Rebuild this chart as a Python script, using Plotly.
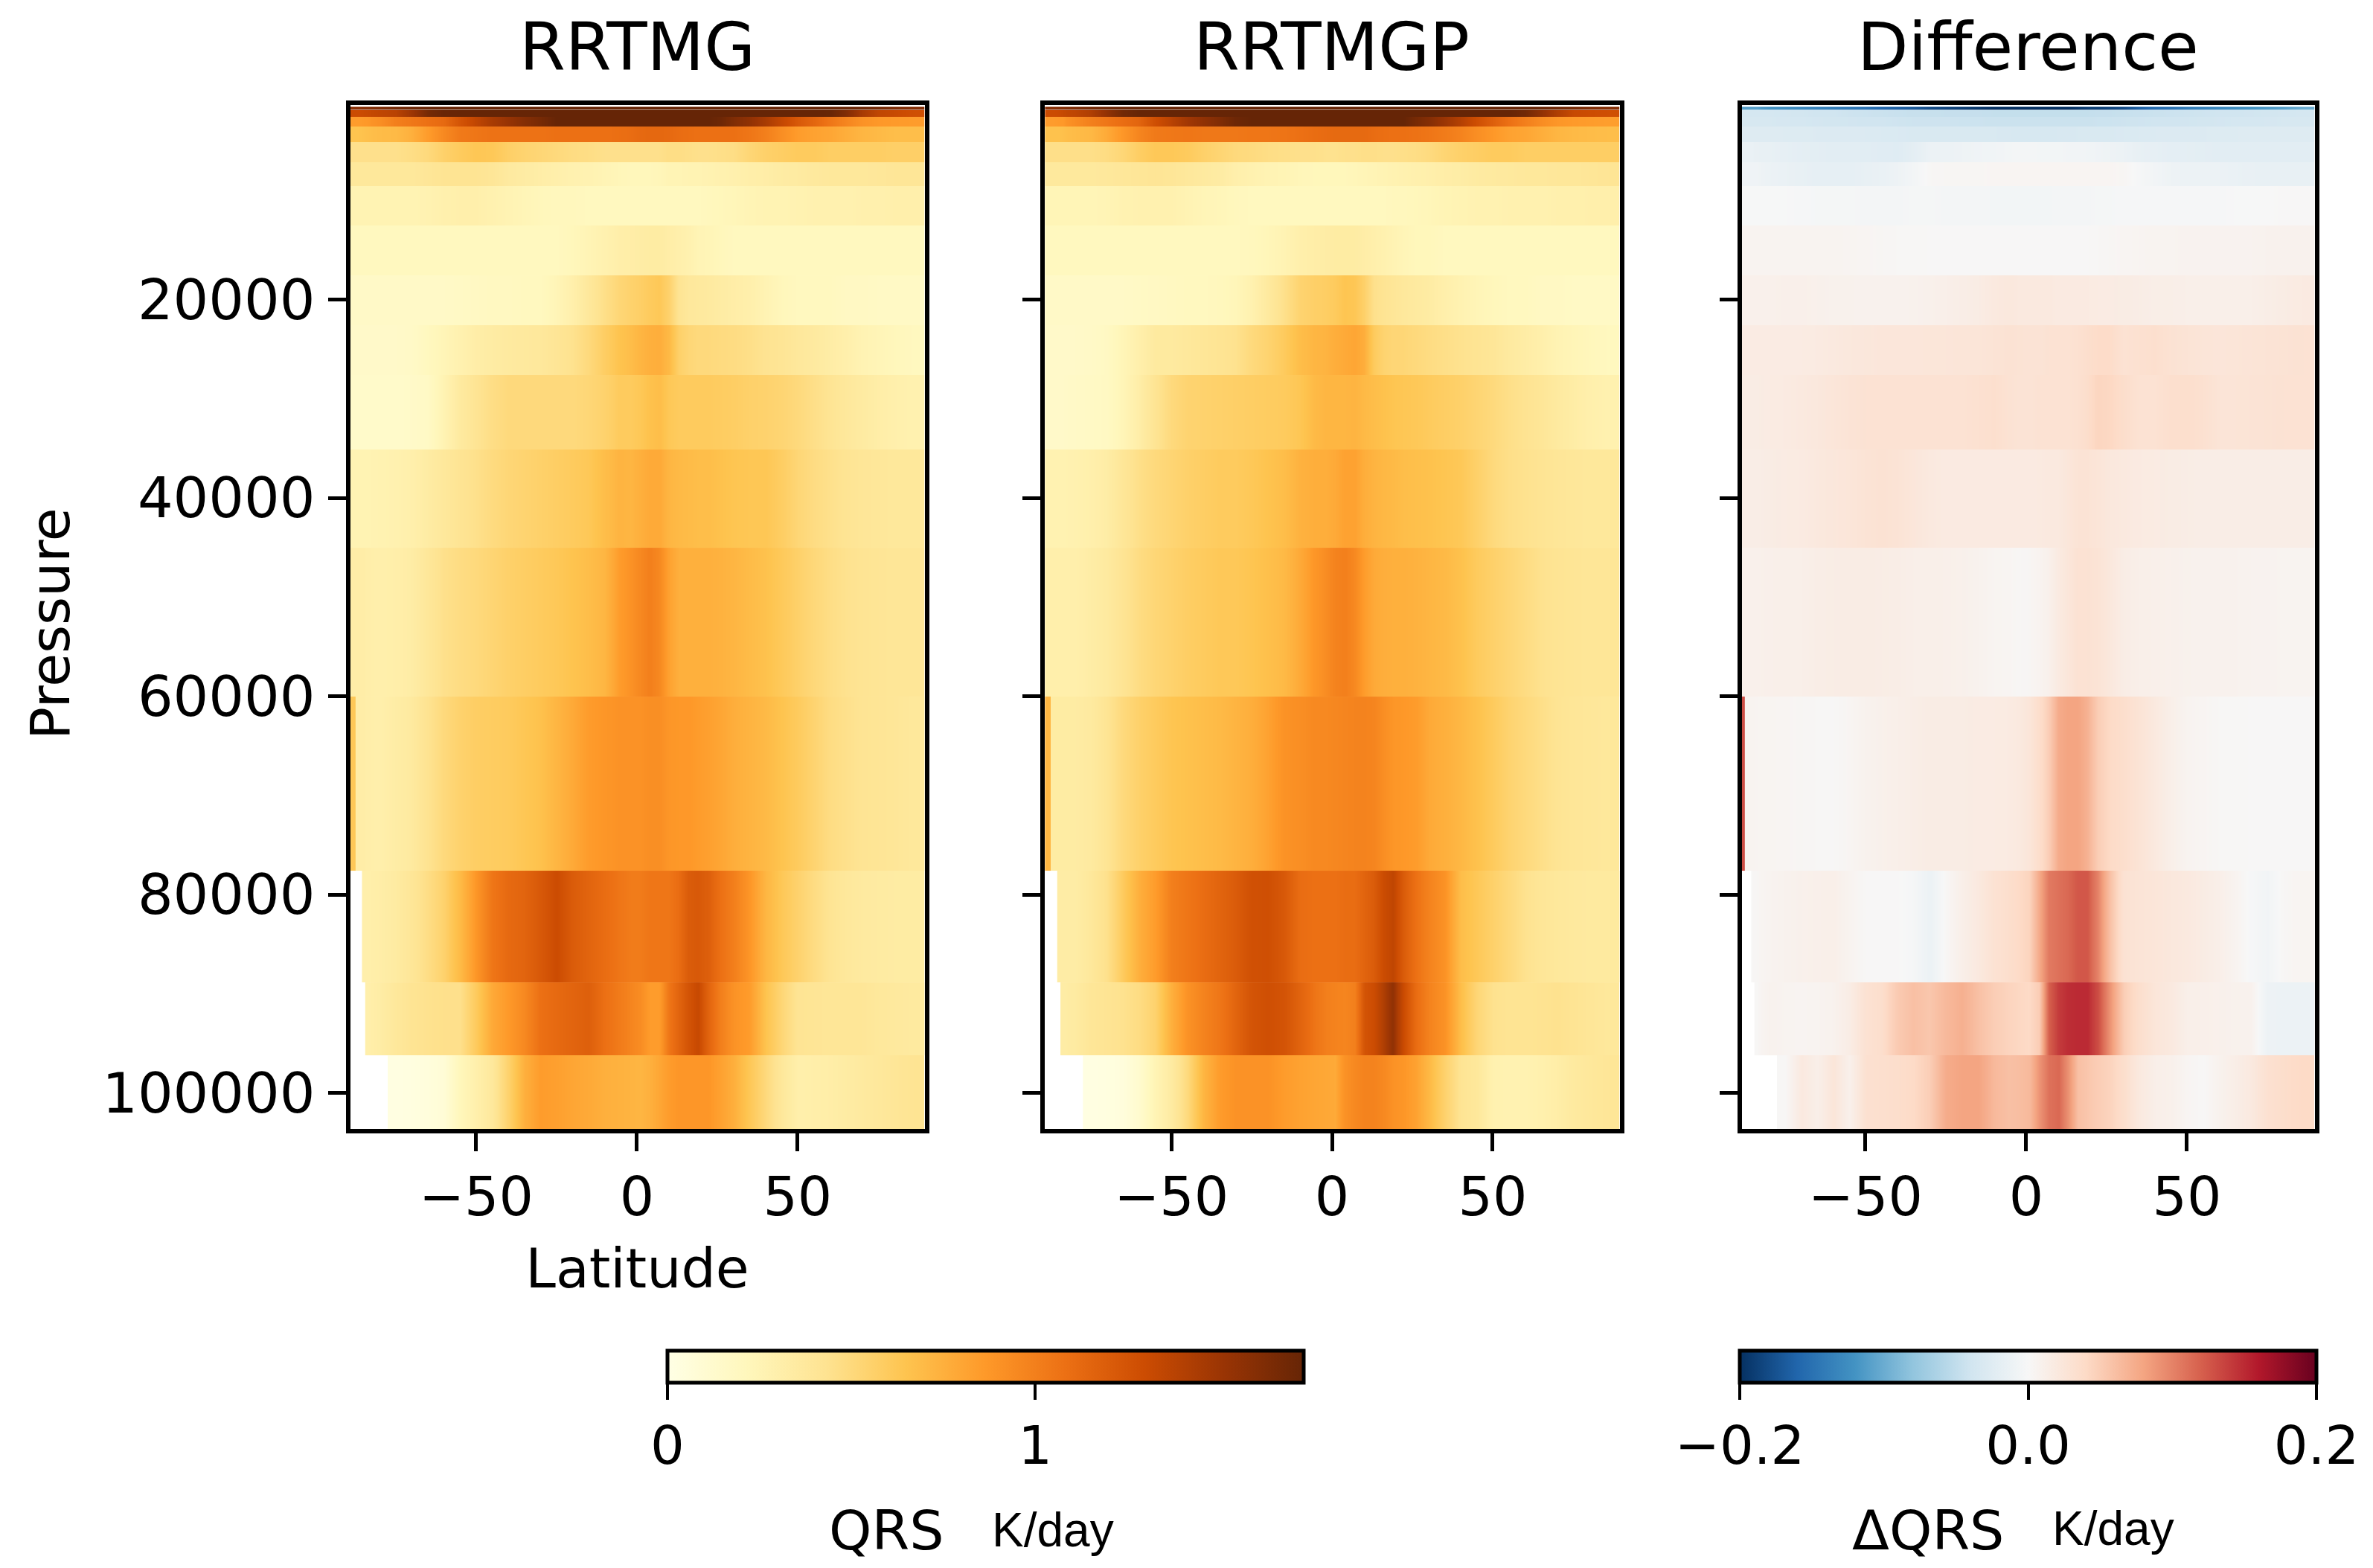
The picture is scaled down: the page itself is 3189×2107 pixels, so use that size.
import plotly.graph_objects as go

W, H = 3189, 2107
PAGE_MARGIN = 8  # the browser's default body margin shifts the figure
T = 1.73

def fx(px):
    return (px - PAGE_MARGIN) / W
def fy(px):
    return 1 - (px - PAGE_MARGIN) / H

lat_edges = [-89.3,-87.5,-85.5,-84.5,-82.5,-77.5,-72.5,-67.5,-62.5,-57.5,-52.5,-47.5,-42.5,-37.5,-32.5,-27.5,-22.5,-17.5,-12.5,-7.5,-3.5,-0.5,2.5,5.5,8.5,11.5,14.5,17.5,20.5,24,28,32.5,37.5,42.5,47.5,52.5,57.5,62.5,67.5,72.5,77.5,82.5,89.8]
p_edges = [563,900,1576,2552,4128,6154,8556,12533,17562,22590,27618,35123,45030,60040,77600,88860,96210,103640]

N = None
rrtmg = [
[1.58,1.58,1.6,1.6,1.63,1.67, 1.7,1.72,T,T,T,T, T,T,T,T,T,T, T,T,T,T,T,T, T,T,T,T,T,T, T,T,T,T,T,T, T,1.72,1.7,1.67,1.63,1.6],
[1.3,1.3,1.31,1.32,1.35,1.38, 1.5,1.66,1.72,T,T,T, T,T,T,T,T,T, T,T,T,T,T,T, T,T,T,T,T,T, T,T,T,T,T,T, 1.72,1.62,1.45,1.35,1.32,1.28],
[.85,.85,.86,.87,.92,1.0, 1.04,1.08,1.12,1.25,1.35,1.45, 1.52,1.6,1.66,T,T,T, T,T,T,T,T,T, T,T,T,T,T,1.7, 1.62,1.55,1.45,1.33,1.22,1.14, 1.05,.97,.9,.87,.86,.85],
[.65,.65,.66,.67,.69,.7, .75,.85,.95,1.03,1.05,1.07, 1.07,1.07,1.07,1.08,1.08,1.08, 1.08,1.09,1.1,1.12,1.13,1.13, 1.12,1.1,1.09,1.08,1.08,1.08, 1.08,1.05,1.0,.92,.85,.82, .8,.76,.72,.7,.68,.68],
[.45,.45,.45,.45,.45,.45, .47,.5,.56,.6,.63,.62, .57,.54,.52,.5,.48,.47, .45,.45,.45,.45,.45,.45, .47,.47,.46,.45,.45,.46, .47,.52,.56,.58,.6,.6, .58,.58,.58,.58,.57,.57],
[.38,.38,.38,.38,.38,.38, .38,.4,.42,.42,.42,.4, .36,.34,.32,.3,.28,.27, .25,.23,.22,.22,.22,.23, .25,.25,.26,.26,.27,.28, .29,.31,.32,.34,.35,.37, .38,.38,.38,.39,.4,.4],
[.26,.26,.26,.26,.26,.26, .26,.27,.29,.3,.3,.28, .26,.24,.22,.21,.21,.2, .2,.2,.2,.2,.2,.2, .2,.2,.2,.2,.21,.22, .23,.25,.26,.26,.27,.28, .28,.28,.29,.29,.3,.3],
[.2,.2,.2,.2,.2,.2, .2,.2,.2,.2,.2,.2, .2,.2,.2,.2,.22,.25, .28,.31,.32,.33,.34,.34, .32,.3,.28,.25,.24,.22, .2,.2,.2,.2,.2,.2, .2,.2,.2,.2,.2,.2],
[.16,.16,.16,.16,.16,.16, .16,.16,.16,.17,.18,.19, .19,.2,.2,.24,.3,.38, .46,.52,.55,.57,.6,.62, .55,.42,.38,.37,.36,.34, .32,.3,.26,.22,.2,.2, .2,.18,.18,.17,.17,.17],
[.15,.15,.15,.15,.15,.15, .16,.2,.24,.28,.32,.34, .36,.37,.38,.41,.44,.5, .58,.65,.68,.72,.75,.76, .7,.56,.52,.5,.5,.49, .48,.46,.43,.41,.38,.36, .33,.3,.26,.24,.22,.2],
[.14,.14,.14,.14,.14,.14, .15,.17,.26,.36,.42,.47, .5,.5,.5,.5,.5,.52, .55,.6,.6,.62,.66,.68, .62,.6,.6,.6,.6,.59, .58,.56,.55,.53,.5,.46, .42,.38,.35,.32,.3,.28],
[.26,.26,.26,.26,.27,.28, .3,.34,.38,.42,.45,.49, .52,.54,.56,.58,.6,.62, .68,.73,.72,.75,.78,.78, .72,.7,.69,.68,.68,.66, .64,.63,.63,.58,.52,.48, .45,.42,.4,.39,.38,.38],
[.32,.32,.32,.31,.3,.31, .33,.39,.45,.48,.5,.53, .56,.58,.6,.62,.65,.68, .72,.85,.9,.95,1.0,.95, .82,.75,.75,.75,.75,.74, .72,.69,.66,.61,.56,.51, .47,.44,.42,.41,.4,.4],
[.62,.32,.32,.31,.3,.33, .36,.43,.5,.55,.58,.59, .6,.63,.66,.72,.78,.85, .88,.9,.9,.9,.92,.92, .88,.87,.87,.85,.83,.8, .76,.73,.7,.65,.6,.54, .48,.45,.42,.41,.4,.38],
[N,N,.3,.3,.32,.35, .4,.47,.55,.7,.88,1.05, 1.12,1.15,1.22,1.3,1.2,1.15, 1.1,1.05,1.02,1.02,1.05,1.05, 1.05,1.1,1.2,1.22,1.18,1.08, 1.0,.88,.72,.62,.55,.48, .42,.38,.36,.35,.34,.34],
[N,N,N,.3,.33,.38, .42,.44,.45,.45,.6,.78, .86,.95,1.08,1.12,1.15,1.18, 1.08,1.02,.97,.93,.85,.85, 1.05,1.15,1.25,1.32,1.15,1.0, .9,.85,.65,.52,.42,.41, .4,.4,.4,.38,.37,.36],
[N,N,N,N,N,.02, .03,.05,.08,.22,.3,.38, .55,.75,.85,.83,.8,.78, .75,.74,.73,.72,.75,.8, .85,.88,.88,.88,.88,.82, .75,.62,.5,.38,.3,.31, .32,.34,.36,.38,.4,.42],
]

rrtmgp = [
[1.58,1.58,1.6,1.6,1.63,1.67, 1.7,1.72,T,T,T,T, T,T,T,T,T,T, T,T,T,T,T,T, T,T,T,T,T,T, T,T,T,T,T,T, T,1.72,1.69,1.66,1.62,1.6],
[1.3,1.3,1.31,1.33,1.36,1.42, 1.55,1.68,T,T,T,T, T,T,T,T,T,T, T,T,T,T,T,T, T,T,T,T,T,T, T,T,T,T,T,T, 1.68,1.55,1.42,1.32,1.3,1.28],
[.85,.85,.86,.87,.93,1.0, 1.05,1.1,1.15,1.28,1.38,1.48, 1.55,1.62,1.7,T,T,T, T,T,T,T,T,T, T,T,T,T,T,1.66, 1.6,1.5,1.4,1.28,1.18,1.08, 1.0,.93,.88,.86,.85,.84],
[.66,.66,.66,.67,.69,.71, .78,.88,.97,1.03,1.04,1.05, 1.04,1.04,1.04,1.05,1.05,1.06, 1.08,1.1,1.11,1.12,1.12,1.12, 1.12,1.1,1.09,1.08,1.08,1.07, 1.05,1.02,.98,.92,.87,.82, .8,.76,.72,.7,.69,.68],
[.46,.46,.46,.46,.46,.46, .48,.52,.58,.62,.62,.6, .56,.53,.5,.49,.47,.46, .45,.45,.44,.44,.45,.45, .46,.46,.45,.45,.46,.47, .49,.53,.56,.58,.6,.6, .58,.58,.58,.58,.58,.58],
[.37,.37,.37,.37,.37,.37, .38,.39,.4,.41,.4,.38, .36,.34,.3,.28,.26,.25, .23,.22,.22,.22,.22,.23, .24,.25,.26,.27,.28,.29, .3,.32,.33,.35,.36,.37, .38,.38,.39,.39,.4,.41],
[.24,.24,.24,.24,.24,.24, .25,.27,.28,.28,.28,.26, .24,.23,.21,.2,.2,.2, .2,.2,.2,.2,.2,.2, .2,.2,.2,.21,.21,.22, .23,.25,.26,.27,.27,.28, .28,.28,.29,.29,.3,.3],
[.2,.2,.2,.2,.2,.2, .2,.2,.2,.2,.2,.2, .2,.2,.2,.21,.23,.26, .3,.32,.33,.34,.34,.34, .32,.3,.28,.26,.24,.22, .22,.2,.2,.2,.2,.2, .2,.2,.2,.2,.2,.2],
[.16,.16,.16,.16,.16,.16, .16,.16,.17,.18,.19,.2, .2,.21,.23,.28,.36,.45, .54,.57,.58,.6,.64,.63, .56,.45,.42,.4,.38,.36, .34,.3,.27,.24,.22,.2, .2,.18,.18,.17,.17,.17],
[.15,.15,.15,.15,.15,.16, .18,.24,.3,.36,.36,.38, .4,.42,.44,.5,.54,.6, .68,.72,.73,.76,.78,.8, .76,.6,.54,.52,.52,.5, .48,.46,.44,.42,.4,.36, .33,.3,.26,.24,.22,.2],
[.15,.15,.15,.15,.16,.17, .18,.24,.32,.42,.5,.54, .55,.56,.57,.58,.59,.6, .63,.7,.72,.72,.72,.73, .7,.68,.66,.64,.63,.62, .6,.58,.56,.53,.5,.46, .43,.4,.36,.33,.3,.28],
[.27,.27,.27,.27,.28,.3, .33,.4,.46,.5,.53,.56, .58,.6,.6,.62,.65,.68, .74,.76,.76,.78,.82,.82, .76,.73,.71,.7,.68,.67, .66,.64,.62,.56,.5,.46, .44,.42,.4,.39,.38,.38],
[.3,.3,.3,.3,.3,.33, .36,.42,.48,.52,.55,.58, .6,.62,.62,.64,.67,.7, .78,.88,.93,.98,1.0,.95, .85,.78,.76,.75,.75,.74, .72,.7,.66,.6,.56,.52, .48,.44,.42,.41,.4,.4],
[.72,.34,.34,.34,.34,.36, .42,.5,.56,.6,.64,.66, .68,.7,.73,.76,.82,.9, .92,.95,.95,.96,.97,.98, .98,.97,.92,.88,.87,.85, .78,.75,.71,.66,.6,.54, .5,.46,.42,.4,.39,.38],
[N,N,.33,.33,.33,.38, .45,.6,.75,.85,1.0,1.05, 1.1,1.15,1.2,1.27,1.28,1.22, 1.1,1.08,1.08,1.08,1.1,1.1, 1.15,1.2,1.3,1.35,1.2,1.08, .98,.9,.68,.62,.56,.5, .44,.4,.38,.37,.36,.36],
[N,N,N,.33,.35,.4, .42,.44,.48,.55,.75,.9, .98,1.05,1.15,1.25,1.28,1.25, 1.15,1.05,1.0,.98,.97,1.0, 1.25,1.3,1.42,1.55,1.3,1.1, .98,.9,.68,.52,.44,.42, .42,.43,.44,.42,.4,.38],
[N,N,N,N,N,.02, .03,.05,.12,.25,.35,.5, .72,.85,.9,.9,.9,.85, .82,.8,.79,.78,.9,.95, .98,.98,.95,.9,.88,.82, .7,.55,.42,.38,.28,.27, .27,.29,.32,.36,.38,.4],
]

difference = [
[-.11,-.11,-.11,-.11,-.12,-.125, -.13,-.135,-.14,-.145,-.15,-.16, -.165,-.17,-.18,-.185,-.19,-.195, -.2,-.2,-.2,-.2,-.2,-.2, -.2,-.2,-.195,-.19,-.19,-.185, -.18,-.165,-.155,-.15,-.14,-.135, -.13,-.125,-.12,-.115,-.11,-.1],
[-.036,-.036,-.036,-.036,-.036,-.037, -.038,-.04,-.04,-.042,-.043,-.044, -.045,-.046,-.046,-.047,-.047,-.047, -.048,-.048,-.048,-.048,-.048,-.048, -.048,-.048,-.048,-.048,-.047,-.047, -.046,-.045,-.044,-.043,-.042,-.041, -.04,-.04,-.039,-.038,-.037,-.036],
[-.034,-.034,-.034,-.034,-.034,-.035, -.036,-.037,-.038,-.039,-.04,-.04, -.041,-.042,-.042,-.042,-.043,-.043, -.044,-.044,-.044,-.044,-.044,-.044, -.044,-.044,-.044,-.044,-.043,-.043, -.042,-.041,-.04,-.04,-.039,-.038, -.037,-.036,-.036,-.035,-.034,-.034],
[-.026,-.026,-.026,-.026,-.026,-.027, -.027,-.028,-.028,-.028,-.029,-.03, -.03,-.032,-.032,-.032,-.032,-.032, -.032,-.033,-.034,-.034,-.034,-.034, -.033,-.033,-.032,-.032,-.032,-.032, -.03,-.03,-.029,-.028,-.028,-.028, -.027,-.027,-.026,-.026,-.026,-.026],
[-.014,-.014,-.014,-.015,-.016,-.018, -.02,-.021,-.022,-.022,-.023,-.024, -.025,-.02,-.012,-.012,-.01,-.008, -.007,-.005,-.004,-.004,-.005,-.005, -.005,-.006,-.006,-.007,-.008,-.01, -.012,-.016,-.018,-.02,-.02,-.021, -.022,-.022,-.022,-.022,-.022,-.022],
[-.008,-.008,-.008,-.008,-.012,-.014, -.016,-.018,-.018,-.018,-.016,-.014, -.01,-.005,.002,.003,.003,.003, .004,.004,.004,.004,.004,.004, .004,.004,.004,.004,.004,.004, .003,-.002,-.006,-.01,-.012,-.012, -.012,-.014,-.015,-.016,-.016,-.016],
[-.001,-.001,-.001,-.001,-.001,-.001, -.002,-.003,-.003,-.003,-.004,-.004, -.004,-.003,-.003,-.004,-.004,-.004, -.005,-.005,-.005,-.005,-.005,-.005, -.004,-.004,-.004,-.004,-.003,-.003, -.002,-.002,-.002,-.002,-.002,-.002, -.002,-.001,-.001,0,.001,.001],
[.006,.006,.006,.006,.006,.006, .006,.006,.006,.005,.004,.003, .002,.002,.001,.001,.001,.001, .001,.001,.001,.001,.001,.001, .001,.001,.001,.001,.002,.003, .004,.005,.006,.006,.007,.007, .007,.007,.007,.008,.008,.008],
[.01,.01,.01,.01,.01,.011, .011,.01,.009,.009,.008,.008, .008,.009,.01,.012,.014,.016, .02,.022,.02,.02,.02,.02, .018,.018,.018,.018,.017,.017, .016,.015,.013,.013,.012,.012, .012,.012,.012,.014,.016,.018],
[.017,.017,.017,.017,.017,.017, .017,.018,.02,.022,.023,.024, .024,.024,.025,.025,.026,.026, .028,.03,.029,.028,.028,.03, .03,.03,.032,.035,.038,.038, .03,.032,.034,.03,.028,.026, .025,.026,.027,.028,.029,.03],
[.016,.016,.016,.016,.017,.018, .02,.022,.025,.028,.03,.03, .03,.03,.03,.03,.03,.032, .034,.03,.028,.028,.03,.03, .03,.03,.032,.036,.044,.042, .036,.03,.03,.034,.035,.032, .027,.027,.028,.029,.03,.03],
[.014,.014,.014,.014,.016,.017, .018,.021,.023,.025,.028,.03, .028,.024,.02,.018,.018,.018, .018,.018,.018,.018,.019,.02, .02,.024,.028,.028,.026,.022, .02,.018,.017,.016,.015,.014, .014,.014,.014,.014,.014,.014],
[.01,.01,.01,.01,.011,.012, .012,.014,.015,.016,.016,.015, .014,.012,.012,.011,.01,.008, .005,.004,.002,.003,.006,.01, .018,.024,.03,.03,.028,.022, .015,.012,.011,.01,.009,.008, .008,.008,.007,.007,.006,.006],
[.13,.006,.006,.005,.005,.004, .003,.002,.001,.004,.008,.01, .012,.014,.016,.016,.016,.017, .017,.018,.02,.025,.035,.05, .075,.08,.08,.07,.05,.04, .035,.028,.02,.012,.006,.004, .002,.002,.001,.001,.001,.001],
[N,N,.002,.003,.006,.008, .01,.011,.012,.006,.001,.001, .001,-.003,-.012,.002,.012,.02, .03,.035,.04,.045,.075,.105, .11,.115,.125,.125,.1,.06, .03,.027,.025,.022,.02,.016, .012,.006,-.002,-.006,.002,.005],
[N,N,N,.002,.008,.006, .005,.006,.008,.015,.03,.035, .052,.06,.055,.065,.072,.06, .05,.045,.042,.04,.05,.12, .14,.148,.15,.15,.13,.09, .05,.035,.025,.02,.012,.011, .01,.009,.008,-.01,-.012,-.012],
[N,N,N,N,N,.002, .02,.012,.025,.01,.032,.034, .036,.04,.05,.075,.08,.08, .065,.06,.062,.065,.09,.11, .115,.09,.06,.055,.05,.045, .035,.02,.012,.01,.004,.001, .008,.014,.02,.032,.036,.04],
]

# The row whose first column is a narrow, sharply different strip at the pole.
POLAR_STRIP_ROW = 13

for panel in (rrtmg, rrtmgp, difference):
    assert len(panel) == len(p_edges) - 1
    for row in panel:
        assert len(row) == len(lat_edges) - 1, len(row)

ylorbr = ["#ffffe5","#fff7bc","#fee391","#fec44f","#fe9929","#ec7014","#cc4c02","#993404","#662506"]
rdbu_r = ["#053061","#2166ac","#4393c3","#92c5de","#d1e5f0","#f7f7f7","#fddbc7","#f4a582","#d6604d","#b2182b","#67001f"]
def scale(colors):
    return [[i/(len(colors)-1), c] for i, c in enumerate(colors)]

titles = ["RRTMG", "RRTMGP", "Difference"]
# Inner plot areas; plotly draws the axis lines just outside these.
x_domains_px = [(470.5,1242.5), (1403.5,2176.5), (2340.5,3110.5)]
x_ranges = [[-89.2,89.5], [-89.5,89.5], [-88.5,89.7]]
y_dom_px = (141, 1517)
y_range = [103640, 375]
p_ticks = [20000,40000,60000,80000,100000]
lat_ticks = [-50,0,50]
FONT = "DejaVu Sans"

fig = go.Figure()

def add_row(row, r, ca, xn, yn, start):
    """One pressure layer, smoothed along latitude only."""
    top, bottom = p_edges[r], p_edges[r+1]
    vals = row[start:]
    fig.add_trace(go.Heatmap(x=lat_edges[start:], y=[top, (top+bottom)/2, bottom], z=[vals, vals],
                             coloraxis=ca, xaxis=xn, yaxis=yn, zsmooth="best"))

for i, (data, ca) in enumerate(zip((rrtmg, rrtmgp, difference), ("coloraxis","coloraxis","coloraxis2"))):
    s = "" if i == 0 else str(i+1)
    xn, yn = "x"+s, "y"+s
    for r, row in enumerate(data):
        start = next(k for k, v in enumerate(row) if v is not None)
        if r == POLAR_STRIP_ROW:
            fig.add_trace(go.Heatmap(x=lat_edges[:2], y=[p_edges[r], p_edges[r+1]], z=[[row[0]]],
                                     coloraxis=ca, xaxis=xn, yaxis=yn))
            start = 1
        add_row(row, r, ca, xn, yn, start)
    d = x_domains_px[i]
    axis_style = dict(showline=True, linecolor="black", linewidth=6, mirror=True, ticks="outside",
                      ticklen=24, tickwidth=5, tickcolor="black", showgrid=False, zeroline=False)
    xa = dict(domain=[fx(d[0]), fx(d[1])], range=x_ranges[i], tickmode="array", tickvals=lat_ticks,
              anchor=yn, ticklabelstandoff=-2,
              tickfont=dict(family=FONT, size=73, color="black"), **axis_style)
    ya = dict(domain=[fy(y_dom_px[1]), fy(y_dom_px[0])], range=y_range, tickmode="array", tickvals=p_ticks,
              tickformat="d", anchor=xn, showticklabels=(i == 0), ticklabelstandoff=2,
              tickfont=dict(family=FONT, size=75, color="black"), **axis_style)
    if i == 0:
        xa["title"] = dict(text="Latitude", font=dict(family=FONT, size=73, color="black"), standoff=32)
    fig.update_layout(**{"xaxis"+s: xa, "yaxis"+s: ya})
    fig.add_annotation(text=titles[i], xref="paper", yref="paper", x=fx(sum(d)/2), y=fy(63),
                       showarrow=False, xanchor="center", yanchor="middle",
                       font=dict(family=FONT, size=89, color="black"))

fig.add_annotation(text="Pressure", xref="paper", yref="paper", x=fx(67), y=fy(838), textangle=-90,
                   showarrow=False, xanchor="center", yanchor="middle",
                   font=dict(family=FONT, size=73, color="black"))

def colorbar(x0, x1, tickvals, ticktext):
    return dict(orientation="h", x=fx(x0), xanchor="left", y=fy(1815), yanchor="top", len=(x1-x0)/W, lenmode="fraction",
                thickness=43, thicknessmode="pixels", xpad=0, ypad=0, outlinewidth=5, outlinecolor="black",
                ticks="outside", ticklen=21, tickwidth=4, tickcolor="black", tickmode="array",
                tickvals=tickvals, ticktext=ticktext,
                tickfont=dict(family=FONT, size=72, color="black"))

labels = [("QRS",1191,2056,FONT,73), ("K/day",1415,2056,"Liberation Sans",64),
          ("ΔQRS",2591,2056,FONT,73), ("K/day",2840,2054,"Liberation Sans",64)]
for txt, x, y, fam, size in labels:
    fig.add_annotation(text=txt, xref="paper", yref="paper", x=fx(x), y=fy(y), showarrow=False,
                       xanchor="center", yanchor="middle", font=dict(family=fam, size=size, color="black"))

fig.update_layout(
    width=W, height=H, margin=dict(l=0, r=0, t=0, b=0), autosize=False,
    paper_bgcolor="white", plot_bgcolor="white", showlegend=False,
    coloraxis=dict(colorscale=scale(ylorbr), cmin=0, cmax=1.73, colorbar=colorbar(897,1752,[0,1],["0","1"])),
    coloraxis2=dict(colorscale=scale(rdbu_r), cmin=-0.2, cmax=0.2,
                    colorbar=colorbar(2338,3113,[-0.2,0,0.2],["\u22120.2","0.0","0.2"])),
)
fig.write_html("out.html")
